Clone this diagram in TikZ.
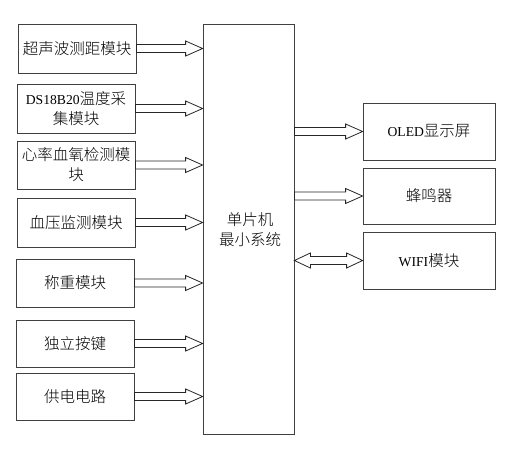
\documentclass[tikz,border=0pt]{standalone}
\usepackage{fontspec}
\setmainfont{Noto Sans CJK SC}[UprightFont={* Light}]
\newfontfamily\lat[Scale=0.88]{Liberation Serif}
\usetikzlibrary{calc}
\tikzset{
  blk/.style={draw=black!75, line width=0.8pt, rectangle, inner sep=0pt, align=center,
    font=\fontsize{15.5}{20}\selectfont},
  arr/.style={draw=black!85, line width=0.8pt, fill=white}
}
\newcommand\fatarrow[2]{%
  \draw[arr] let \p1=(#1), \p2=(#2) in
    (\x1,\y1+4pt) -- (\x2-17pt,\y1+4pt) -- (\x2-17pt,\y1+7.5pt) -- (\x2,\y1)
    -- (\x2-17pt,\y1-7.5pt) -- (\x2-17pt,\y1-4pt) -- (\x1,\y1-4pt) -- cycle;}
\newcommand\dblarrow[2]{%
  \draw[arr] let \p1=(#1), \p2=(#2) in
    (\x1,\y1) -- (\x1+16pt,\y1+7.5pt) -- (\x1+16pt,\y1+4pt) -- (\x2-16pt,\y1+4pt)
    -- (\x2-16pt,\y1+7.5pt) -- (\x2,\y1) -- (\x2-16pt,\y1-7.5pt) -- (\x2-16pt,\y1-4pt)
    -- (\x1+16pt,\y1-4pt) -- (\x1+16pt,\y1-7.5pt) -- cycle;}
\begin{document}
\begin{tikzpicture}[x=1pt,y=-1pt]
\useasboundingbox (0,0) rectangle (508,448);
\fill[white] (0,0) rectangle (508,448);
% left modules
\node[blk, minimum width=118pt, minimum height=49pt] (m1) at (77,48.5) {超声波测距模块};
\node[blk, minimum width=118pt, minimum height=49pt] (m2) at (76,108.5) {{\lat DS18B20}温度采\\集模块};
\node[blk, minimum width=118pt, minimum height=48pt] (m3) at (76,165) {心率血氧检测模\\块};
\node[blk, minimum width=118pt, minimum height=49pt] (m4) at (76,222.5) {血压监测模块};
\node[blk, minimum width=118pt, minimum height=48pt] (m5) at (75,283) {称重模块};
\node[blk, minimum width=118pt, minimum height=47pt] (m6) at (75,343.5) {独立按键};
\node[blk, minimum width=118pt, minimum height=47pt] (m7) at (75,396.5) {供电电路};
% MCU
\node[blk, minimum width=91pt, minimum height=410pt] (mcu) at (248.5,229) {};
\node[font=\fontsize{15.5}{20}\selectfont, align=center, inner sep=0pt] (mcut) at (250,230) {单片机\\最小系统};
% right modules
\node[blk, minimum width=132pt, minimum height=57pt] (r1) at (429,131.5) {{\lat OLED}显示屏};
\node[blk, minimum width=132pt, minimum height=56pt] (r2) at (429,196) {蜂鸣器};
\node[blk, minimum width=132pt, minimum height=57pt] (r3) at (429,260.5) {{\lat WIFI}模块};
% arrows
\foreach \m in {m1,m2,m3,m4,m5,m6,m7}{\fatarrow{\m.east}{\m.east -| mcu.west}}
\fatarrow{r1.west -| mcu.east}{r1.west}
\fatarrow{r2.west -| mcu.east}{r2.west}
\dblarrow{r3.west -| mcu.east}{r3.west}
\end{tikzpicture}
\end{document}
